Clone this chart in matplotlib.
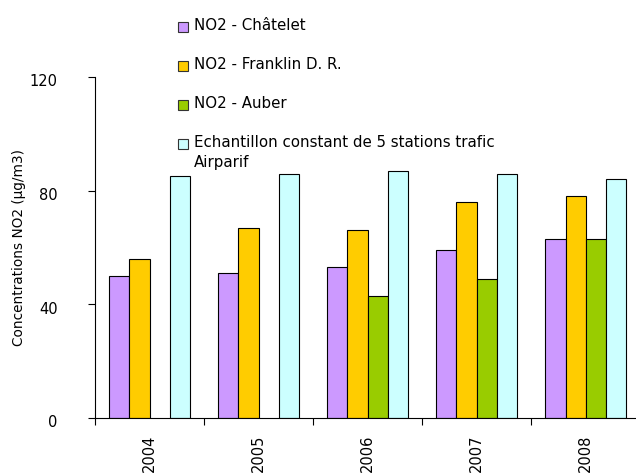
import matplotlib.pyplot as plt
from matplotlib.patches import Rectangle
from matplotlib.transforms import ScaledTranslation
import numpy as np

annees = ["2004", "2005", "2006", "2007", "2008"]
series = ["NO2 - Châtelet", "NO2 - Franklin D. R.", "NO2 - Auber",
          "Echantillon constant de 5 stations trafic\nAirparif"]
chatelet = [50, 51, 53, 59, 63]
franklin = [56, 67, 66, 76, 78]
auber = [np.nan, np.nan, 43, 49, 63]   # pas de mesure avant 2006
trafic = [85, 86, 87, 86, 84]
couleurs = ["#CC99FF", "#FFCC00", "#99CC00", "#CCFFFF"]

plt.rcParams['font.family'] = ['DejaVu Sans']

fig = plt.figure(figsize=(6.36, 4.73), dpi=100)
ax = fig.add_axes([0.1494, 0.1163, 0.857, 0.721])

x = np.arange(len(annees))
largeur = 0.184
valeurs = [chatelet, franklin, auber, trafic]
for i, v in enumerate(valeurs):
    ax.bar(x + 0.5 + (i - 1.5) * largeur, v, largeur, color=couleurs[i],
           edgecolor="black", linewidth=0.8)

ax.set_xlim(0, 5)
ax.set_ylim(0, 120)
ax.set_yticks([0, 40, 80, 120])
ax.set_xticks(np.arange(0, 6))
ax.set_xticklabels([])
ax.set_xticks(x + 0.5, minor=True)
ax.set_xticklabels(annees, minor=True, rotation=90, fontsize=10.5)
ax.tick_params(axis="x", which="minor", length=0, pad=12)
ax.tick_params(axis="x", which="major", length=5, direction="out")
ax.tick_params(axis="y", length=5, labelsize=10.5, pad=22)
# les valeurs de l'axe y sont un peu sous leur graduation
for lab in ax.get_yticklabels():
    lab.set_transform(lab.get_transform() +
                      ScaledTranslation(0, -2.5 / 72, fig.dpi_scale_trans))
ax.spines["top"].set_visible(False)
ax.spines["right"].set_visible(False)
ax.set_ylabel("Concentrations NO2 (µg/m3)", fontsize=9.8)
ax.yaxis.set_label_coords(-0.127, 0.5)

# legende dessinee a la main en haut du graphique
for i, (lab, c) in enumerate(zip(series, couleurs)):
    yc = 1 - (27 + 39 * i) / 473
    fig.add_artist(Rectangle((178 / 636, yc - 5 / 473), 10 / 636, 10 / 473,
                             transform=fig.transFigure, facecolor=c,
                             edgecolor="#333333", linewidth=0.8))
    fig.text(194 / 636, yc + 9 / 473, lab, fontsize=10.8, va="top",
             linespacing=1.45)

fig.savefig("out.png", dpi=100)
